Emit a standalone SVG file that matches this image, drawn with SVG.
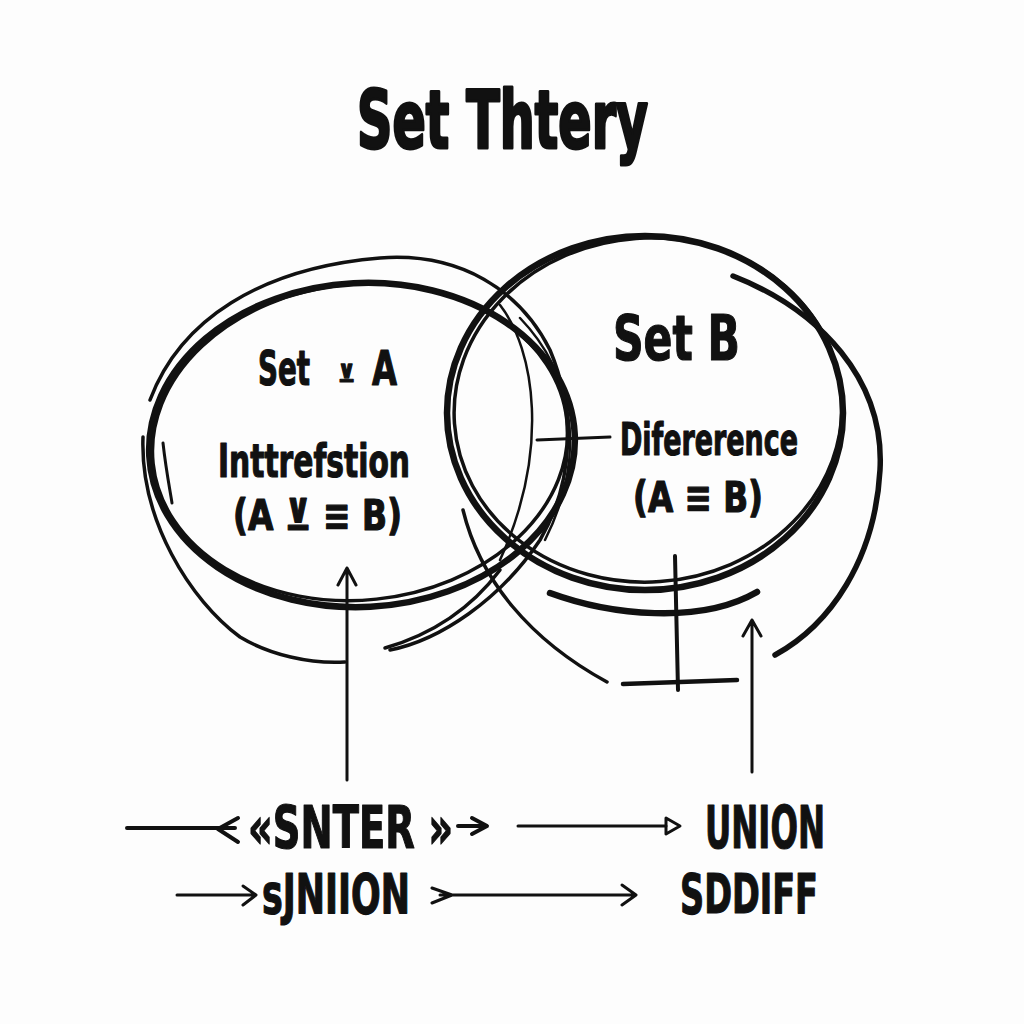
<svg xmlns="http://www.w3.org/2000/svg" width="1024" height="1024" viewBox="0 0 1024 1024">
<style>
.s{fill:none;stroke:#111;stroke-linecap:round;stroke-linejoin:round}
.t{font-family:"DejaVu Sans Condensed","DejaVu Sans","Liberation Sans",sans-serif;font-weight:bold;fill:#111;stroke:#111;stroke-width:1.2;stroke-linejoin:round}
.h{stroke-width:3}
</style>
<rect width="1024" height="1024" fill="#fdfdfd"/>
<text id="title" class="t h" x="357" y="148" font-size="80" textLength="291" lengthAdjust="spacingAndGlyphs">Set Thtery</text>
<g id="setA">
<ellipse class="s" cx="362" cy="445" rx="213" ry="162" stroke-width="6.5" transform="rotate(-3 362 445)"/>
<ellipse class="s" cx="360" cy="442" rx="208" ry="158" stroke-width="3.5" transform="rotate(-6 360 442)"/>
<path class="s" stroke-width="3.5" d="M150,400 C180,320 260,268 380,258 C460,252 520,290 550,350 C575,410 575,480 540,540 C500,600 440,640 390,650"/>
<path class="s" stroke-width="3.5" d="M143,437 C140,520 190,600 240,637 C270,655 310,664 345,662"/>
<path class="s" stroke-width="3" d="M163,443 C166,470 170,490 172,503"/>
<path class="s" stroke-width="3.5" d="M500,570 C470,610 430,635 385,648"/>
<path class="s" stroke-width="2.5" d="M500,305 C535,350 550,450 500,560"/>
<path class="s" stroke-width="2.5" d="M520,318 C570,370 590,450 545,540"/>
<text class="t" x="258" y="385" font-size="48" textLength="52" lengthAdjust="spacingAndGlyphs">Set</text>
<text class="t" x="338" y="382" font-size="24" stroke-width="0.5">⊻</text>
<text class="t" x="372" y="385" font-size="48" textLength="25" lengthAdjust="spacingAndGlyphs">A</text>
<text class="t" x="218" y="477" font-size="46" textLength="192" lengthAdjust="spacingAndGlyphs">Inttrefstion</text>
<text class="t" x="233" y="530" font-size="42" textLength="169" lengthAdjust="spacingAndGlyphs">(A ⊻ ≡ B)</text>
</g>
<g id="setB">
<ellipse class="s" cx="645" cy="413" rx="198" ry="177" stroke-width="6.5"/>
<ellipse class="s" cx="648" cy="410" rx="194" ry="172" stroke-width="3.5" transform="rotate(-4 648 410)"/>
<path class="s" stroke-width="5.5" d="M733,276 C820,310 885,380 880,470 C875,560 830,625 775,655"/>
<path class="s" stroke-width="3.5" d="M463,510 C480,580 530,640 607,682"/>
<path class="s" stroke-width="6.5" d="M550,593 C610,615 700,625 757,592"/>
<text class="t" x="613" y="360" font-size="62" textLength="127" lengthAdjust="spacingAndGlyphs">Set B</text>
<text class="t" x="620" y="455" font-size="45" textLength="178" lengthAdjust="spacingAndGlyphs">Difererence</text>
<text class="t" x="633" y="512" font-size="42" textLength="130" lengthAdjust="spacingAndGlyphs">(A ≡ B)</text>
</g>
<g id="connectors">
<path class="s" stroke-width="3" d="M537,440 L610,437"/>
<path class="s" stroke-width="4" d="M675,556 L678,690"/>
<path class="s" stroke-width="4.5" d="M623,684 L737,680"/>
<path class="s" stroke-width="3" d="M347,780 L347,568 M338,585 L347,568 L356,585"/>
<path class="s" stroke-width="3" d="M752,772 L752,620 M743,636 L752,620 L761,636"/>
<path class="s" stroke-width="4" d="M127,828 L235,828 M238,818 L218,829 L238,842"/>
<path class="s" stroke-width="4" d="M458,826 L486,826 M472,818 L487,826 L472,834"/>
<path class="s" stroke-width="3" d="M518,826 L666,826"/>
<path class="s" stroke-width="3" fill="#fff" d="M666,818 L680,826 L666,834 Z"/>
<path class="s" stroke-width="3" d="M177,895 L255,895 M243,886 L256,895 L243,905"/>
<path class="s" stroke-width="3" d="M432,888 L452,895 L432,903 M440,895 L635,895 M622,885 L636,895 L622,905"/>
</g>
<g id="labels">
<text class="t" x="248" y="848" font-size="58" textLength="205" lengthAdjust="spacingAndGlyphs">«SNTER »</text>
<text class="t" x="705" y="848" font-size="58" textLength="120" lengthAdjust="spacingAndGlyphs">UNION</text>
<text class="t" x="262" y="913" font-size="55" textLength="148" lengthAdjust="spacingAndGlyphs">sJNIION</text>
<text class="t" x="680" y="913" font-size="55" textLength="138" lengthAdjust="spacingAndGlyphs">SDDIFF</text>
</g>
</svg>
